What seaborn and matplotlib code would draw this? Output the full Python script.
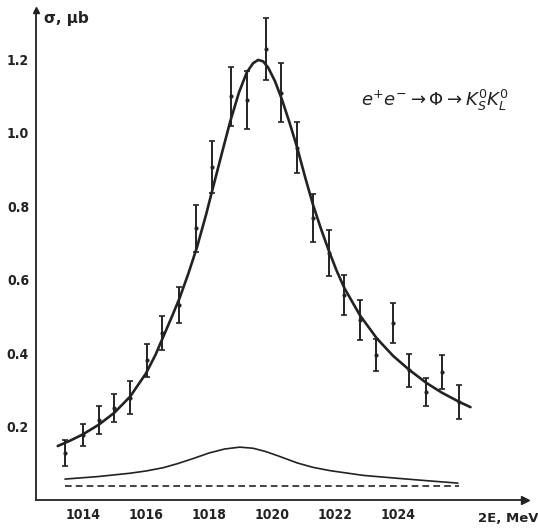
import numpy as np
import pandas as pd
import matplotlib
matplotlib.use("Agg")
import matplotlib.pyplot as plt
import seaborn as sns

# measured points (2E, MeV) / cross section (mu b) / error
energy = [1013.43, 1014.0, 1014.5, 1015.0, 1015.5, 1016.03, 1016.5, 1017.05,
          1017.6, 1018.1, 1018.7, 1019.2, 1019.8, 1020.3, 1020.8, 1021.3,
          1021.8, 1022.3, 1022.8, 1023.3, 1023.85, 1024.35, 1024.9, 1025.4, 1025.95]
sigma = [0.128, 0.177, 0.218, 0.25, 0.278, 0.381, 0.455, 0.531,
         0.741, 0.907, 1.10, 1.09, 1.229, 1.11, 0.96, 0.768,
         0.673, 0.559, 0.49, 0.395, 0.482, 0.354, 0.294, 0.349, 0.267]
err = [0.035, 0.03, 0.037, 0.038, 0.045, 0.045, 0.045, 0.05,
       0.064, 0.07, 0.08, 0.08, 0.085, 0.08, 0.07, 0.065,
       0.063, 0.055, 0.055, 0.044, 0.054, 0.045, 0.038, 0.046, 0.045]

# fitted curve
fit_e = [1013.2, 1013.6, 1014.0, 1014.5, 1015.0, 1015.5, 1016.0, 1016.3, 1016.6,
         1016.85, 1017.08, 1017.35, 1017.62, 1017.9, 1018.13, 1018.41, 1018.67,
         1018.95, 1019.2, 1019.4, 1019.56, 1019.72, 1019.88, 1020.1, 1020.32,
         1020.55, 1020.8, 1021.05, 1021.3, 1021.55, 1021.8, 1022.05, 1022.3,
         1022.8, 1023.33, 1023.84, 1024.35, 1024.9, 1025.4, 1025.95, 1026.3]
fit_s = [0.147, 0.162, 0.179, 0.205, 0.238, 0.282, 0.345, 0.395, 0.455,
         0.505, 0.553, 0.618, 0.689, 0.775, 0.852, 0.945, 1.03,
         1.11, 1.165, 1.19, 1.199, 1.195, 1.178, 1.14, 1.09,
         1.03, 0.96, 0.88, 0.805, 0.74, 0.68, 0.625, 0.577,
         0.502, 0.44, 0.393, 0.355, 0.319, 0.292, 0.267, 0.253]

# lower solid curve
low_e = [1013.43, 1014.5, 1015.5, 1016.0, 1016.55, 1017.0, 1017.5, 1018.0,
         1018.5, 1018.98, 1019.4, 1019.8, 1020.2, 1020.8, 1021.3, 1021.84,
         1022.9, 1024.0, 1025.0, 1025.9]
low_s = [0.057, 0.064, 0.073, 0.079, 0.088, 0.099, 0.113, 0.128,
         0.139, 0.144, 0.141, 0.132, 0.12, 0.101, 0.089, 0.08,
         0.067, 0.059, 0.052, 0.046]

# dashed background
bg_e = [1013.43, 1025.95]
bg_s = [0.038, 0.038]

x_ticks = [1014, 1016, 1018, 1020, 1022, 1024, 1026]
x_labels = ["1014", "1016", "1018", "1020", "1022", "1024", ""]
y_ticks = [0.1, 0.2, 0.3, 0.4, 0.5, 0.6, 0.7, 0.8, 0.9, 1.0, 1.1, 1.2]
y_labels = ["", "0.2", "", "0.4", "", "0.6", "", "0.8", "", "1.0", "", "1.2"]

sns.set_style("white")
plt.rcParams['font.family'] = ['DejaVu Sans']

W, H = 538, 528
fig = plt.figure(figsize=(W / 100, H / 100), dpi=100)
ax = fig.add_axes([36 / W, (H - 500) / H, (525 - 36) / W, (500 - 10) / H])

ink = "#222222"
pts = pd.DataFrame({"E": energy, "s": sigma, "e": err})
fit = pd.DataFrame({"E": fit_e, "s": fit_s})
low = pd.DataFrame({"E": low_e, "s": low_s})
bg = pd.DataFrame({"E": bg_e, "s": bg_s})

sns.lineplot(data=fit, x="E", y="s", ax=ax, color=ink, lw=1.9, sort=True)
sns.lineplot(data=low, x="E", y="s", ax=ax, color=ink, lw=1.2, sort=True)
sns.lineplot(data=bg, x="E", y="s", ax=ax, color=ink, lw=1.2, dashes=False,
             linestyle=(0, (4, 2.5)))
ax.errorbar(pts["E"], pts["s"], yerr=pts["e"], fmt="none", ecolor=ink,
            elinewidth=1.4, capsize=2, capthick=1.2)
sns.scatterplot(data=pts, x="E", y="s", ax=ax, color=ink, s=9, edgecolor=ink,
                linewidth=0, zorder=5)

ax.set_xlim(1012.51, 1028.03)
ax.set_ylim(0, 1.335)
for sp in ["top", "right"]:
    ax.spines[sp].set_visible(False)
for sp in ["left", "bottom"]:
    ax.spines[sp].set_color(ink)
    ax.spines[sp].set_linewidth(1.3)

ax.plot(1, 0, ">", color=ink, ms=6, transform=ax.transAxes, clip_on=False)
ax.plot(0, 1, "^", color=ink, ms=5, transform=ax.transAxes, clip_on=False)

ax.set_xticks(x_ticks)
ax.set_xticklabels(x_labels)
ax.set_yticks(y_ticks)
ax.set_yticklabels(y_labels)
ax.tick_params(axis="both", direction="in", length=5, width=1.3, color=ink,
               labelsize=10, labelcolor=ink)
ax.tick_params(axis="y", pad=5)
ax.tick_params(axis="x", pad=6)
for lab in ax.get_xticklabels() + ax.get_yticklabels():
    lab.set_fontweight("bold")
    lab.set_fontstretch("condensed")

ax.set_xlabel("")
ax.set_ylabel("")
fig.text(44 / W, 1 - 18 / H, "σ, μb", fontsize=11, fontweight="bold",
         color=ink, ha="left", va="center")
fig.text(538 / W, 1 - 518 / H, "2E, MeV", fontsize=9.5, fontweight="bold",
         color=ink, ha="right", va="center")
fig.text(435 / W, 1 - 100 / H,
         r"$e^{+}e^{-}\rightarrow\Phi\rightarrow K^{0}_{S}K^{0}_{L}$",
         fontsize=13, color=ink, ha="center", va="center")

fig.savefig("out.png", dpi=100, facecolor="white")
